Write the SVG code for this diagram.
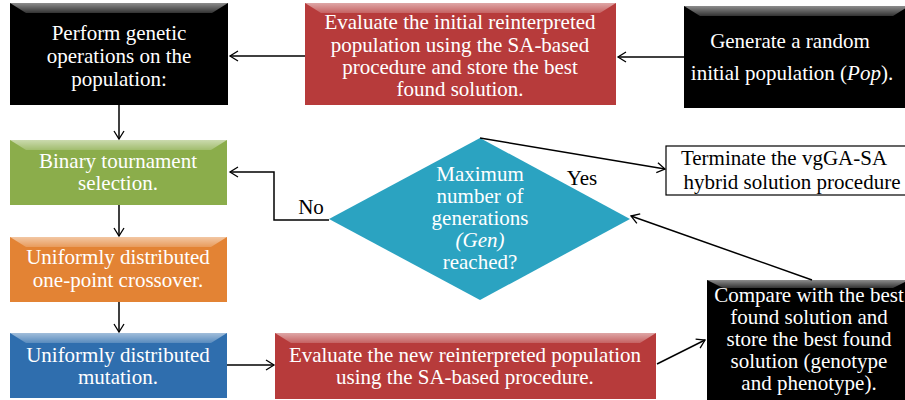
<svg xmlns="http://www.w3.org/2000/svg" width="905" height="400" viewBox="0 0 905 400">
<defs>
<linearGradient id="bev" x1="0" y1="0" x2="0" y2="1">
<stop offset="0" stop-color="#fff" stop-opacity="0.55"/>
<stop offset="1" stop-color="#fff" stop-opacity="0.2"/>
</linearGradient>
<marker id="arr" markerWidth="12" markerHeight="12" refX="10" refY="6" orient="auto" markerUnits="userSpaceOnUse">
<path d="M2,1 L10,6 L2,11" fill="none" stroke="#000" stroke-width="1.3"/>
</marker>
</defs>
<style>
.t{font-family:"Liberation Serif","Times New Roman",serif;font-size:21px;fill:#fff;text-anchor:middle}
.k{fill:#000}
.c{fill:none;stroke:#000;stroke-width:1.5;marker-end:url(#arr)}
</style>
<rect width="905" height="400" fill="#fff"/>

<g id="perform">
<rect x="10" y="3" width="218" height="102" fill="#000"/>
<polygon points="10,3 228,3 212,13 26,13" fill="url(#bev)"/>
<text class="t" x="119" y="40">Perform genetic</text>
<text class="t" x="119" y="63">operations on the</text>
<text class="t" x="119" y="86">population:</text>
</g>

<g id="evalinit">
<rect x="305" y="3" width="311" height="102" fill="#b73b3b"/>
<polygon points="305,3 616,3 600,13 321,13" fill="url(#bev)"/>
<text class="t" x="460" y="29">Evaluate the initial reinterpreted</text>
<text class="t" x="460" y="52">population using the SA-based</text>
<text class="t" x="460" y="74">procedure and store the best</text>
<text class="t" x="460" y="96">found solution.</text>
</g>

<g id="generate">
<rect x="684" y="6" width="225" height="102" fill="#000"/>
<polygon points="684,6 909,6 893,16 700,16" fill="url(#bev)"/>
<text class="t" x="790" y="48" font-size="22">Generate a random</text>
<text class="t" x="792" y="80" font-size="22">initial population (<tspan font-style="italic">Pop</tspan>).</text>
</g>

<g id="binary">
<rect x="10" y="140" width="217" height="65" fill="#8bad4b"/>
<polygon points="10,140 227,140 211,150 26,150" fill="url(#bev)"/>
<text class="t" x="118" y="168">Binary tournament</text>
<text class="t" x="118" y="190">selection.</text>
</g>

<g id="crossover">
<rect x="10" y="237" width="217" height="65" fill="#e38334"/>
<polygon points="10,237 227,237 211,247 26,247" fill="url(#bev)"/>
<text class="t" x="118" y="264">Uniformly distributed</text>
<text class="t" x="118" y="287">one-point crossover.</text>
</g>

<g id="mutation">
<rect x="10" y="333" width="217" height="65" fill="#2f6eae"/>
<polygon points="10,333 227,333 211,343 26,343" fill="url(#bev)"/>
<text class="t" x="118" y="362">Uniformly distributed</text>
<text class="t" x="118" y="384">mutation.</text>
</g>

<g id="evalnew">
<rect x="275" y="333" width="381" height="66" fill="#b73b3b"/>
<polygon points="275,333 656,333 640,343 291,343" fill="url(#bev)"/>
<text class="t" x="465" y="362">Evaluate the new reinterpreted population</text>
<text class="t" x="465" y="384">using the SA-based procedure.</text>
</g>

<g id="decision">
<polygon points="480,138 630,219 480,300 329,219" fill="#2ba3c1"/>
<text class="t" x="480" y="181">Maximum</text>
<text class="t" x="480" y="203">number of</text>
<text class="t" x="480" y="225">generations</text>
<text class="t" x="480" y="247" font-style="italic">(Gen)</text>
<text class="t" x="480" y="269">reached?</text>
</g>

<g id="terminate">
<rect x="666" y="146" width="245" height="49" fill="#fff" stroke="#000" stroke-width="1.2"/>
<text class="t k" x="784" y="165">Terminate the vgGA-SA</text>
<text class="t k" x="792" y="189">hybrid solution procedure</text>
</g>

<g id="compare">
<rect x="707" y="280" width="202" height="122" fill="#000"/>
<polygon points="707,280 909,280 893,288 723,288" fill="url(#bev)"/>
<text class="t" x="809" y="302">Compare with the best</text>
<text class="t" x="809" y="324">found solution and</text>
<text class="t" x="809" y="346">store the best found</text>
<text class="t" x="809" y="368">solution (genotype</text>
<text class="t" x="809" y="390">and phenotype).</text>
</g>

<g id="connectors">
<line class="c" x1="684" y1="57" x2="618" y2="57"/>
<line class="c" x1="305" y1="56" x2="230" y2="56"/>
<line class="c" x1="119" y1="105" x2="119" y2="139"/>
<line class="c" x1="119" y1="205" x2="119" y2="236"/>
<line class="c" x1="119" y1="302" x2="119" y2="332"/>
<line class="c" x1="227" y1="365" x2="274" y2="365"/>
<line class="c" x1="657" y1="364" x2="705" y2="340"/>
<line class="c" x1="812" y1="280" x2="631" y2="216"/>
<polyline class="c" points="329,220 274,220 274,172 230,172"/>
<line class="c" x1="480" y1="138" x2="665" y2="169"/>
<text class="t k" x="311" y="214">No</text>
<text class="t k" x="582" y="185">Yes</text>
</g>
</svg>
